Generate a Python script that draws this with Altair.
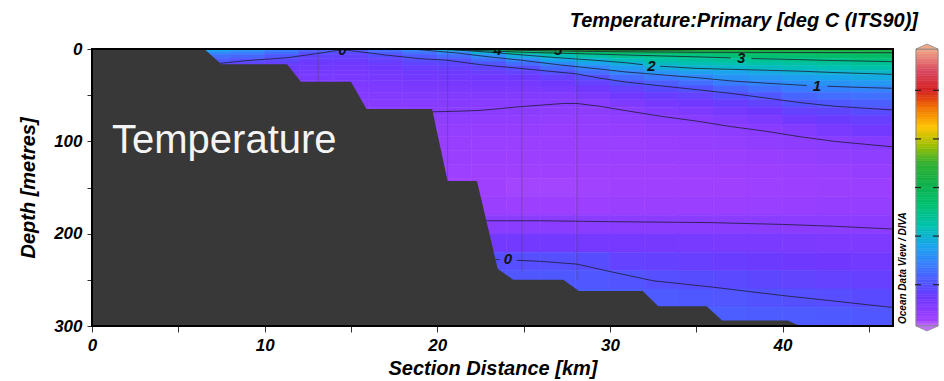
import altair as alt
import pandas as pd
import numpy as np

# ---------------- data ----------------
# grid cell edges (km along section, depth in m)
dist_edges = [6, 8, 10, 12, 14, 16, 18, 20, 22, 24, 26, 28, 30, 32, 34, 36, 38, 40, 42, 44, 46.4]
depth_edges = [0, 3, 6, 10, 14, 18, 23, 28, 34, 40, 47, 55, 63, 72, 82, 95, 110,
               125, 140, 160, 180, 200, 220, 240, 260, 280, 300]

# temperature profiles (deg C), one per distance column, top to bottom
col_07 = [1.6, 1.1, 0.6, 0.25, -0.05, -0.3, -0.45, -0.55, -0.65, -0.72, -0.8, -0.88, -0.95, -1.05, -1.15, -1.22, -1.3, -1.35, -1.38, -1.3, -1.0, -0.6, -0.1, 0.0, 0.05, 0.1]
col_09 = [1.3, 0.85, 0.45, 0.05, -0.25, -0.4, -0.5, -0.6, -0.68, -0.75, -0.82, -0.9, -0.96, -1.05, -1.15, -1.22, -1.3, -1.35, -1.38, -1.3, -1.0, -0.6, -0.1, 0.0, 0.05, 0.1]
col_11 = [0.9, 0.55, 0.15, -0.15, -0.35, -0.48, -0.57, -0.65, -0.72, -0.78, -0.85, -0.92, -0.98, -1.05, -1.15, -1.22, -1.3, -1.35, -1.38, -1.3, -1.0, -0.6, -0.1, 0.0, 0.05, 0.1]
col_13 = [0.35, 0.0, -0.25, -0.4, -0.5, -0.58, -0.65, -0.71, -0.77, -0.82, -0.88, -0.94, -0.99, -1.06, -1.15, -1.22, -1.3, -1.35, -1.38, -1.3, -1.0, -0.6, -0.1, 0.0, 0.05, 0.1]
col_15 = [0.15, -0.12, -0.3, -0.42, -0.52, -0.6, -0.66, -0.72, -0.78, -0.84, -0.9, -0.95, -1.0, -1.06, -1.15, -1.22, -1.3, -1.35, -1.38, -1.3, -1.0, -0.6, -0.1, 0.0, 0.05, 0.1]
col_17 = [0.6, 0.25, -0.08, -0.3, -0.42, -0.52, -0.6, -0.67, -0.73, -0.8, -0.86, -0.93, -0.98, -1.05, -1.15, -1.22, -1.3, -1.36, -1.38, -1.3, -1.0, -0.6, -0.1, 0.0, 0.05, 0.1]
col_19 = [1.1, 0.6, 0.2, -0.05, -0.25, -0.38, -0.5, -0.6, -0.68, -0.76, -0.84, -0.92, -0.99, -1.08, -1.18, -1.26, -1.33, -1.39, -1.41, -1.3, -1.0, -0.6, -0.1, 0.0, 0.05, 0.1]
col_21 = [1.8, 1.0, 0.5, 0.05, -0.2, -0.35, -0.47, -0.58, -0.67, -0.76, -0.85, -0.93, -1.01, -1.1, -1.2, -1.28, -1.35, -1.41, -1.43, -1.33, -1.0, -0.6, -0.1, 0.05, 0.1, 0.15]
col_23 = [3.3, 1.9, 1.1, 0.55, 0.1, -0.2, -0.4, -0.55, -0.66, -0.76, -0.85, -0.94, -1.02, -1.12, -1.22, -1.3, -1.37, -1.43, -1.45, -1.35, -1.0, -0.6, -0.05, 0.1, 0.15, 0.2]
col_25 = [4.5, 2.85, 1.85, 1.05, 0.55, 0.0, -0.28, -0.48, -0.62, -0.75, -0.86, -0.96, -1.05, -1.15, -1.24, -1.32, -1.39, -1.45, -1.47, -1.37, -1.0, -0.6, -0.05, 0.12, 0.2, 0.25]
col_27 = [4.9, 3.1, 2.3, 1.65, 1.1, 0.55, 0.05, -0.3, -0.52, -0.7, -0.85, -0.98, -1.08, -1.18, -1.26, -1.33, -1.39, -1.45, -1.47, -1.37, -1.0, -0.6, -0.02, 0.15, 0.25, 0.3]
col_29 = [5.0, 3.4, 2.6, 2.0, 1.55, 0.95, 0.5, 0.0, -0.32, -0.55, -0.75, -0.95, -1.08, -1.18, -1.25, -1.32, -1.38, -1.44, -1.46, -1.36, -1.0, -0.63, -0.08, 0.12, 0.25, 0.32]
col_31 = [5.0, 3.6, 2.85, 2.3, 1.9, 1.45, 1.0, 0.5, 0.05, -0.3, -0.55, -0.8, -1.0, -1.12, -1.22, -1.3, -1.37, -1.43, -1.45, -1.35, -1.0, -0.66, -0.3, 0.08, 0.22, 0.32]
col_33 = [4.9, 3.65, 2.95, 2.55, 2.22, 1.85, 1.28, 0.78, 0.25, -0.12, -0.4, -0.65, -0.86, -1.05, -1.17, -1.28, -1.35, -1.42, -1.44, -1.34, -1.0, -0.68, -0.33, -0.02, 0.2, 0.3]
col_35 = [4.8, 3.7, 3.05, 2.65, 2.35, 1.98, 1.5, 1.0, 0.52, 0.03, -0.3, -0.55, -0.78, -0.98, -1.12, -1.25, -1.33, -1.4, -1.43, -1.33, -1.0, -0.7, -0.38, -0.08, 0.15, 0.28]
col_37 = [4.7, 3.75, 3.2, 2.75, 2.42, 2.08, 1.6, 1.25, 0.82, 0.35, -0.08, -0.4, -0.64, -0.86, -1.06, -1.2, -1.3, -1.38, -1.42, -1.32, -1.01, -0.72, -0.42, -0.14, 0.1, 0.25]
col_39 = [4.6, 3.8, 3.3, 2.85, 2.52, 2.18, 1.75, 1.35, 1.0, 0.58, 0.13, -0.25, -0.52, -0.76, -0.99, -1.15, -1.27, -1.36, -1.4, -1.3, -1.01, -0.74, -0.46, -0.2, 0.05, 0.22]
col_41 = [4.55, 3.85, 3.35, 2.95, 2.62, 2.28, 1.9, 1.5, 1.15, 0.8, 0.4, 0.03, -0.3, -0.55, -0.85, -1.08, -1.22, -1.33, -1.38, -1.28, -1.02, -0.76, -0.5, -0.26, 0.0, 0.2]
col_43 = [4.5, 3.9, 3.45, 3.0, 2.7, 2.38, 2.0, 1.63, 1.25, 0.9, 0.52, 0.15, -0.2, -0.45, -0.72, -1.0, -1.17, -1.3, -1.35, -1.25, -1.04, -0.78, -0.54, -0.3, -0.05, 0.17]
col_45 = [4.5, 3.95, 3.55, 3.15, 2.8, 2.5, 2.1, 1.75, 1.35, 0.95, 0.62, 0.27, -0.1, -0.35, -0.6, -0.92, -1.1, -1.25, -1.32, -1.22, -1.05, -0.8, -0.58, -0.36, -0.12, 0.12]
profiles = [col_07, col_09, col_11, col_13, col_15, col_17, col_19, col_21, col_23, col_25,
            col_27, col_29, col_31, col_33, col_35, col_37, col_39, col_41, col_43, col_45]

# isotherms (km, depth); split where a label sits
iso_5 = [(26.0, 0), (28.0, 1.0), (31.0, 1.3), (34.0, 1.0), (37.0, 0)]
iso_4 = [(22.5, 0), (23.5, 0.6), (25, 1.5), (27, 2.2), (29, 2.7), (31, 3.0), (35, 3.5), (39, 3.7), (43, 3.9), (46.4, 4.0)]
iso_3a = [(19.8, 0), (21, 1.0), (23, 2.0), (25, 3.5), (27, 4.5), (29, 5.5), (31, 6.5), (33, 7.5), (35, 8.5), (37.0, 9.6)]
iso_3b = [(38.2, 10.3), (41, 11.5), (43, 12.5), (46.4, 13.7)]
iso_2a = [(20.5, 0), (22, 2.2), (23, 3.5), (25, 6.5), (27, 9.5), (29, 12), (31, 15), (31.9, 17)]
iso_2b = [(32.9, 18.6), (35, 21), (37, 22), (39, 23), (41, 24), (43, 25.5), (46.4, 27.5)]
iso_1a = [(18.5, 0), (20, 2.5), (21, 4), (23, 8.5), (24.8, 12), (27, 17), (29.4, 21.7), (31, 25), (33, 28), (35, 31), (37, 34.5), (39, 37), (41.4, 39.5)]
iso_1b = [(42.6, 40.3), (44, 41.3), (46.4, 42.6)]
iso_0u = [(7.45, 15.5), (9, 12.5), (11.3, 9.5), (13, 5), (14.5, 0.8), (15.5, 3), (17, 6.5), (19, 10.5), (20.5, 12), (22.5, 17), (24.8, 21), (28.1, 27), (29.4, 31.5), (31, 36), (33, 40), (35, 44), (37, 48), (39, 53), (41, 58), (43, 62), (46.4, 66)]
iso_m1u = [(19.73, 68), (21, 67.5), (22.5, 66.5), (24.8, 62.5), (27.3, 59), (28.1, 59), (29.4, 62), (31, 67), (33, 73), (35, 78), (37, 84), (39, 89), (41, 95), (43, 100), (46.4, 106)]
iso_m1l = [(22.85, 186), (26, 186), (30, 187), (35.8, 188), (40, 190), (43, 192), (46.4, 195)]
iso_0la = [(23.37, 228), (23.6, 228.2)]
iso_0lb = [(24.6, 228.8), (26, 230), (28.1, 233), (30, 241), (32.5, 251), (36, 258), (40, 267), (43, 273), (46.4, 280)]

label_text = ["5", "4", "0", "3", "2", "1", "0"]
label_km = [27.0, 23.5, 14.5, 37.6, 32.4, 42.0, 24.1]
label_depth = [1.0, 1.0, 1.0, 10.0, 18.0, 40.0, 227.5]

# bottom topography
bathy_km = [0, 6.5, 7.5, 11.3, 12.1, 15.0, 15.9, 19.7, 20.6, 22.3, 23.5, 24.4, 27.3, 28.2, 31.9, 32.8, 35.6, 36.5, 40.3, 41.0, 46.4]
bathy_depth = [0, 0, 16.6, 16.6, 35.4, 35.4, 65, 65, 143, 143, 238, 250, 250, 262, 262, 278.5, 278.5, 294, 294, 300, 300]

# station casts
station_km = [13.1, 20.6, 24.9, 28.1]
station_bottom = [35.0, 143.0, 242.0, 251.0]

# colour map
t_stops = [-1.7, -1.45, -1.0, -0.5, 0.0, 0.8, 1.6, 2.4, 3.3, 4.2, 5.0, 5.8, 6.5, 7.3, 8.0, 8.8, 9.7]
t_colors = ["#c070ff", "#a040ff", "#8a3cff", "#6e38ff", "#5450ff", "#3a7cff", "#1aa4ee", "#00c2b0",
            "#00c070", "#10b048", "#30b030", "#a8c000", "#ffc400", "#f07000", "#d42020", "#d84860", "#f0a888"]
bar_ticks = [0, 2, 4, 6, 8]

# ---------------- tables ----------------
cells = []
for ci, prof in enumerate(profiles):
    for ri, t in enumerate(prof):
        cells.append({"km": dist_edges[ci], "km2": dist_edges[ci + 1],
                      "depth": depth_edges[ri], "depth2": depth_edges[ri + 1], "t": t})
cells = pd.DataFrame(cells)

iso_rows = []
for name, seg in [("5", iso_5), ("4", iso_4), ("3a", iso_3a), ("3b", iso_3b), ("2a", iso_2a),
                  ("2b", iso_2b), ("1a", iso_1a), ("1b", iso_1b), ("0u", iso_0u), ("m1u", iso_m1u),
                  ("m1l", iso_m1l), ("0la", iso_0la), ("0lb", iso_0lb)]:
    for i, (k, d) in enumerate(seg):
        iso_rows.append({"seg": name, "i": i, "km": k, "depth": d})
iso_df = pd.DataFrame(iso_rows)

labels_df = pd.DataFrame({"km": label_km, "depth": label_depth, "lab": label_text})
bathy_df = pd.DataFrame({"km": bathy_km, "depth": bathy_depth, "floor": [300.0] * len(bathy_km)})
station_df = pd.DataFrame({"km": station_km, "depth": [0.0] * len(station_km), "depth2": station_bottom})

W, H = 801, 277
FONT = "Liberation Sans"

xs = alt.Scale(domain=[0, 46.4], nice=False, zero=False)
ys = alt.Scale(domain=[0, 300], reverse=True, nice=False, zero=False)
cs = alt.Scale(domain=t_stops, range=t_colors, interpolate="rgb", clamp=True)

x_axis = alt.Axis(values=list(range(0, 46, 5)),
                  labelExpr="datum.value % 10 === 0 ? datum.label : ''",
                  grid=False, domain=False, tickSize=6, tickColor="#333", tickWidth=1,
                  labelFont=FONT, labelFontSize=17, labelFontStyle="italic", labelFontWeight="bold",
                  labelColor="#000", labelPadding=5, labelFlush=False,
                  title="Section Distance [km]", titleFont=FONT, titleFontSize=20,
                  titleFontStyle="italic", titleFontWeight="bold", titleColor="#000", titlePadding=5)
y_axis = alt.Axis(values=list(range(0, 301, 50)),
                  labelExpr="datum.value % 100 === 0 ? datum.label : ''",
                  grid=False, domain=False, tickSize=5, tickColor="#333", tickWidth=1,
                  labelFont=FONT, labelFontSize=17, labelFontStyle="italic", labelFontWeight="bold",
                  labelColor="#000", labelPadding=5, labelFlush=False,
                  title="Depth [metres]", titleFont=FONT, titleFontSize=20,
                  titleFontStyle="italic", titleFontWeight="bold", titleColor="#000", titlePadding=15)


def X(f):
    return alt.X(f, type="quantitative", scale=xs, axis=x_axis)


def Y(f):
    return alt.Y(f, type="quantitative", scale=ys, axis=y_axis)


heat = alt.Chart(cells).mark_rect(strokeWidth=0.6).encode(
    x=X("km"), x2="km2:Q", y=Y("depth"), y2="depth2:Q",
    color=alt.Color("t:Q", scale=cs, legend=None),
    stroke=alt.Stroke("t:Q", scale=cs, legend=None),
)

stations = alt.Chart(station_df).mark_rule(color="#444", strokeWidth=0.8, opacity=0.45).encode(
    x=X("km"), y=Y("depth"), y2="depth2:Q")

isolines = alt.Chart(iso_df).mark_line(color="#1a1a2a", strokeWidth=0.9, opacity=0.85).encode(
    x=X("km"), y=Y("depth"), detail="seg:N", order="i:Q")

iso_labels = alt.Chart(labels_df).mark_text(
    font=FONT, fontSize=15, fontStyle="italic", fontWeight="bold", color="#111",
    baseline="middle", align="center", clip=True).encode(
    x=X("km"), y=Y("depth"), text="lab:N")

bathy = alt.Chart(bathy_df).mark_area(color="#383838", opacity=1, interpolate="linear").encode(
    x=X("km"), y=Y("depth"), y2="floor:Q")

big_text = alt.Chart(pd.DataFrame({"lab": ["Temperature"]})).mark_text(
    font="'Liberation Sans Narrow', 'Arial Narrow', 'Liberation Sans', sans-serif",
    fontSize=40, color="#f4f4f4", align="left",
    baseline="alphabetic").encode(x=alt.value(20), y=alt.value(104), text="lab:N")

frame = alt.Chart(pd.DataFrame({"a": [0]})).mark_rect(
    fillOpacity=0, stroke="#000", strokeWidth=2).encode(
    x=alt.value(0), x2=alt.value(W), y=alt.value(0), y2=alt.value(H))

main = alt.layer(heat, stations, isolines, iso_labels, bathy, big_text, frame).properties(
    width=W, height=H,
    title=alt.TitleParams("Temperature:Primary [deg C (ITS90)]", anchor="end", frame="group",
                          dx=25, offset=9, fontSize=20, font=FONT, fontStyle="italic",
                          fontWeight="bold", color="#000"),
    view=alt.ViewBackground(strokeOpacity=0),
)

# ---------------- colour bar ----------------
edges = np.round(np.arange(-1.7, 9.7001, 0.1), 3)
bar_df = pd.DataFrame({"lo": edges[:-1], "hi": edges[1:], "t": (edges[:-1] + edges[1:]) / 2})
bs = alt.Scale(domain=[-1.7, 9.7], nice=False, zero=False)

bar = alt.Chart(bar_df).mark_rect(strokeWidth=0.5).encode(
    x=alt.value(0), x2=alt.value(22),
    y=alt.Y("lo:Q", scale=bs, axis=None), y2="hi:Q",
    color=alt.Color("t:Q", scale=cs, legend=None),
    stroke=alt.Stroke("t:Q", scale=cs, legend=None))

bar_outline = alt.Chart(pd.DataFrame({"lo": [-1.7], "hi": [9.7]})).mark_rect(
    fillOpacity=0, stroke="#8a8a8a", strokeWidth=1).encode(
    x=alt.value(0), x2=alt.value(22), y=alt.Y("lo:Q", scale=bs, axis=None), y2="hi:Q")

top_arrow = alt.Chart(pd.DataFrame({"t": [9.7]})).mark_point(
    shape="M-1,0L0,-0.45L1,0Z", size=484, filled=True, opacity=1,
    stroke="#8a8a8a", strokeWidth=0.8).encode(
    x=alt.value(11), y=alt.Y("t:Q", scale=bs, axis=None),
    color=alt.Color("t:Q", scale=cs, legend=None))

bot_arrow = alt.Chart(pd.DataFrame({"t": [-1.7]})).mark_point(
    shape="M-1,0L0,0.45L1,0Z", size=484, filled=True, opacity=1,
    stroke="#8a8a8a", strokeWidth=0.8).encode(
    x=alt.value(11), y=alt.Y("t:Q", scale=bs, axis=None),
    color=alt.Color("t:Q", scale=cs, legend=None))

tick_df = pd.DataFrame({"v": bar_ticks})
ticks_l = alt.Chart(tick_df).mark_rule(color="#222", strokeWidth=1.2).encode(
    x=alt.value(-1), x2=alt.value(5), y=alt.Y("v:Q", scale=bs, axis=None))
ticks_r = alt.Chart(tick_df).mark_rule(color="#222", strokeWidth=1.2).encode(
    x=alt.value(17), x2=alt.value(23), y=alt.Y("v:Q", scale=bs, axis=None))

odv = alt.Chart(pd.DataFrame({"lab": ["Ocean Data View / DIVA"]})).mark_text(
    font=FONT, fontSize=10, fontStyle="italic", fontWeight="bold", color="#000",
    angle=270, align="left", baseline="middle").encode(
    x=alt.value(-13), y=alt.value(275), text="lab:N")

colorbar = alt.layer(bar, bar_outline, top_arrow, bot_arrow, ticks_l, ticks_r, odv).properties(
    width=22, height=H, view=alt.ViewBackground(strokeOpacity=0))

chart = alt.hconcat(main, colorbar, spacing=23, bounds="flush").properties(
    padding={"left": 18, "top": 11, "right": 4, "bottom": 4}
).configure(background="white")

chart.save("out.html", embed_options={"renderer": "svg", "actions": False})
